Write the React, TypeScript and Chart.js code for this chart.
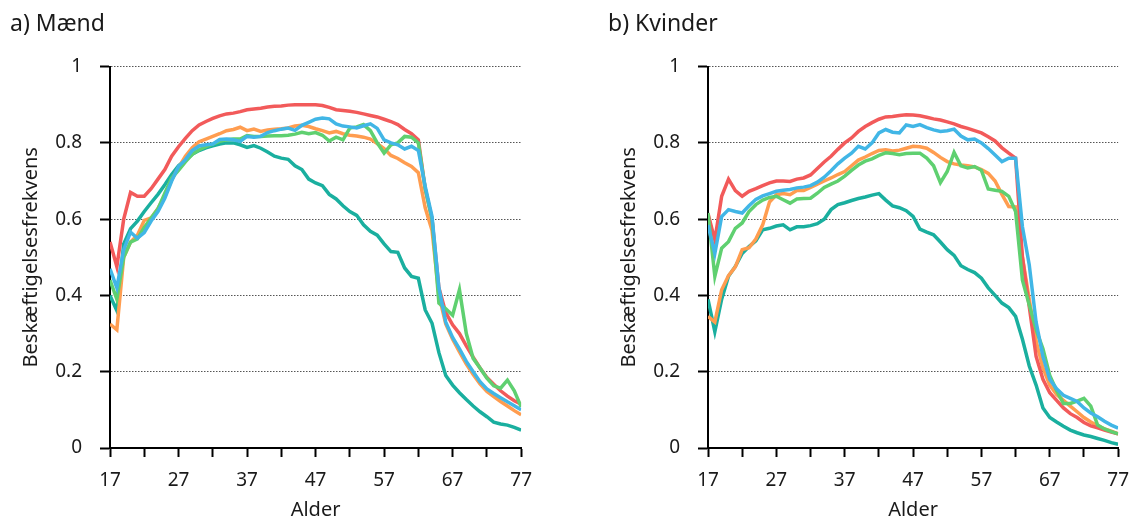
import React, { useEffect, useRef } from "react";
import { Chart, registerables } from "chart.js";

Chart.register(...registerables);

const ages = [17,18,19,20,21,22,23,24,25,26,27,28,29,30,31,32,33,34,35,36,37,38,39,40,41,42,43,44,45,46,47,48,49,50,51,52,53,54,55,56,57,58,59,60,61,62,63,64,65,66,67,68,69,70,71,72,73,74,75,76,77];
const xTickValues = [17,22,27,32,37,42,47,52,57,62,67,72,77];
const xTickLabels = [17,27,37,47,57,67,77];

const menRed = [0.54,0.475,0.60,0.67,0.66,0.66,0.68,0.705,0.73,0.765,0.79,0.812,0.832,0.847,0.856,0.864,0.871,0.876,0.878,0.882,0.887,0.889,0.891,0.894,0.896,0.897,0.899,0.9,0.9,0.9,0.9,0.898,0.893,0.887,0.885,0.883,0.88,0.876,0.872,0.868,0.862,0.856,0.848,0.835,0.824,0.808,0.68,0.60,0.42,0.355,0.323,0.30,0.268,0.238,0.21,0.185,0.167,0.15,0.136,0.124,0.115];
const menBlue = [0.47,0.42,0.52,0.566,0.55,0.565,0.595,0.62,0.655,0.70,0.738,0.756,0.78,0.792,0.795,0.797,0.809,0.81,0.808,0.804,0.817,0.815,0.817,0.827,0.832,0.836,0.839,0.833,0.846,0.854,0.862,0.865,0.863,0.85,0.844,0.842,0.839,0.845,0.85,0.838,0.808,0.80,0.795,0.784,0.791,0.78,0.686,0.607,0.42,0.33,0.29,0.26,0.227,0.20,0.174,0.155,0.143,0.132,0.121,0.111,0.10];
const menOrange = [0.325,0.31,0.50,0.54,0.558,0.597,0.603,0.628,0.66,0.703,0.735,0.765,0.787,0.803,0.81,0.817,0.824,0.832,0.835,0.841,0.832,0.836,0.83,0.834,0.836,0.837,0.839,0.844,0.846,0.843,0.837,0.832,0.826,0.83,0.824,0.82,0.818,0.815,0.81,0.798,0.785,0.767,0.759,0.748,0.738,0.722,0.63,0.57,0.40,0.325,0.285,0.252,0.22,0.193,0.168,0.148,0.135,0.122,0.11,0.098,0.087];
const menGreen = [0.44,0.39,0.50,0.54,0.548,0.578,0.603,0.627,0.668,0.708,0.728,0.75,0.77,0.782,0.79,0.797,0.804,0.808,0.81,0.81,0.819,0.817,0.817,0.818,0.819,0.819,0.82,0.823,0.828,0.824,0.827,0.82,0.805,0.815,0.808,0.839,0.842,0.848,0.832,0.80,0.773,0.795,0.80,0.817,0.815,0.80,0.68,0.60,0.38,0.365,0.348,0.415,0.30,0.235,0.21,0.183,0.163,0.157,0.178,0.15,0.108];
const menTeal = [0.40,0.36,0.535,0.575,0.595,0.62,0.643,0.665,0.69,0.717,0.74,0.755,0.77,0.78,0.787,0.792,0.797,0.80,0.80,0.795,0.788,0.793,0.786,0.776,0.765,0.76,0.757,0.74,0.73,0.705,0.695,0.688,0.665,0.653,0.635,0.62,0.61,0.585,0.568,0.558,0.535,0.515,0.513,0.472,0.45,0.445,0.362,0.327,0.25,0.19,0.165,0.145,0.127,0.11,0.095,0.082,0.068,0.063,0.06,0.054,0.047];

const womenRed = [0.615,0.545,0.66,0.705,0.675,0.66,0.673,0.68,0.688,0.695,0.70,0.70,0.699,0.705,0.708,0.716,0.733,0.75,0.765,0.783,0.80,0.813,0.83,0.843,0.853,0.862,0.868,0.869,0.872,0.874,0.873,0.871,0.867,0.863,0.86,0.855,0.85,0.843,0.838,0.832,0.826,0.816,0.805,0.787,0.773,0.76,0.50,0.37,0.24,0.18,0.145,0.125,0.105,0.09,0.08,0.067,0.058,0.053,0.047,0.042,0.037];
const womenBlue = [0.585,0.51,0.607,0.625,0.62,0.616,0.635,0.652,0.661,0.667,0.673,0.676,0.678,0.682,0.684,0.688,0.697,0.71,0.727,0.745,0.76,0.773,0.791,0.784,0.80,0.826,0.835,0.828,0.826,0.847,0.843,0.848,0.84,0.834,0.83,0.832,0.836,0.818,0.808,0.81,0.80,0.785,0.768,0.751,0.76,0.76,0.58,0.48,0.33,0.24,0.18,0.155,0.138,0.13,0.122,0.105,0.092,0.082,0.07,0.06,0.052];
const womenOrange = [0.345,0.33,0.415,0.452,0.475,0.52,0.525,0.548,0.585,0.645,0.664,0.667,0.664,0.675,0.675,0.683,0.692,0.70,0.708,0.717,0.725,0.74,0.755,0.763,0.772,0.78,0.782,0.779,0.781,0.786,0.791,0.79,0.786,0.775,0.762,0.751,0.745,0.742,0.74,0.737,0.73,0.72,0.70,0.665,0.633,0.632,0.50,0.39,0.28,0.21,0.165,0.14,0.125,0.11,0.095,0.08,0.068,0.058,0.05,0.044,0.037];
const womenGreen = [0.616,0.45,0.524,0.541,0.576,0.59,0.62,0.638,0.65,0.657,0.66,0.651,0.642,0.653,0.654,0.655,0.668,0.683,0.692,0.70,0.713,0.728,0.742,0.752,0.758,0.767,0.774,0.772,0.769,0.772,0.773,0.773,0.76,0.74,0.696,0.725,0.775,0.74,0.734,0.738,0.728,0.679,0.676,0.673,0.66,0.62,0.44,0.375,0.31,0.26,0.19,0.15,0.117,0.117,0.123,0.13,0.11,0.06,0.05,0.043,0.037];
const womenTeal = [0.39,0.305,0.39,0.45,0.476,0.51,0.528,0.543,0.572,0.576,0.582,0.585,0.572,0.58,0.58,0.583,0.588,0.60,0.625,0.638,0.643,0.649,0.654,0.658,0.663,0.667,0.65,0.635,0.63,0.622,0.607,0.574,0.566,0.559,0.54,0.52,0.505,0.478,0.468,0.46,0.445,0.42,0.40,0.38,0.368,0.345,0.285,0.215,0.165,0.105,0.08,0.068,0.057,0.047,0.04,0.034,0.03,0.025,0.02,0.014,0.01];

const COLORS = {
  blue: "#41B6E6",
  green: "#5FD070",
  red: "#F25A5A",
  orange: "#FF9D50",
  teal: "#1AAF9F",
};

const FONT = "'Noto Sans', 'Open Sans', sans-serif";
const TEXT = "#1a1a1a";

type Series = { red: number[]; blue: number[]; orange: number[]; green: number[]; teal: number[] };

function toPoints(values: number[]) {
  return ages.map((a, i) => ({ x: a, y: values[i] }));
}

function buildConfig(title: string, s: Series): any {
  const mk = (vals: number[], color: string) => ({
    data: toPoints(vals),
    borderColor: color,
    backgroundColor: color,
    borderWidth: 3.5,
    pointRadius: 0,
    tension: 0,
    fill: false,
  });
  return {
    type: "line",
    data: {
      datasets: [
        mk(s.blue, COLORS.blue),
        mk(s.green, COLORS.green),
        mk(s.red, COLORS.red),
        mk(s.orange, COLORS.orange),
        mk(s.teal, COLORS.teal),
      ],
    },
    options: {
      animation: false,
      responsive: false,
      events: [],
      layout: { padding: { left: 10, right: 10, top: 0, bottom: 0 } },
      plugins: {
        legend: { display: false },
        tooltip: { enabled: false },
        title: {
          display: true,
          text: title,
          align: "start",
          color: TEXT,
          font: { family: FONT, size: 23, weight: "normal" },
          padding: { top: 11, bottom: 28 },
        },
      },
      scales: {
        x: {
          type: "linear",
          min: 17,
          max: 77,
          afterBuildTicks: (scale: any) => {
            scale.ticks = xTickValues.map((v) => ({ value: v }));
          },
          afterFit: (scale: any) => {
            scale.height = 74;
          },
          ticks: {
            autoSkip: false,
            maxRotation: 0,
            padding: 12,
            color: TEXT,
            font: { family: FONT, size: 19 },
            callback: (v: any) => (xTickLabels.includes(Number(v)) ? String(v) : ""),
          },
          grid: {
            drawOnChartArea: false,
            tickLength: 9,
            tickWidth: 2,
            tickColor: "#000",
          },
          border: { color: "#000", width: 2 },
          title: {
            display: true,
            text: "Alder",
            color: TEXT,
            font: { family: FONT, size: 20 },
            padding: { top: 6, bottom: 0 },
          },
        },
        y: {
          min: 0,
          max: 1,
          afterFit: (scale: any) => {
            scale.width = 100;
          },
          ticks: {
            stepSize: 0.2,
            padding: 18,
            color: TEXT,
            font: { family: FONT, size: 19 },
            callback: (v: any) => String(Math.round(Number(v) * 10) / 10),
          },
          grid: {
            color: (ctx: any) => (ctx.tick && ctx.tick.value === 0 ? "rgba(0,0,0,0)" : "#555"),
            lineWidth: 1,
            tickLength: 10,
            tickWidth: 2,
            tickColor: "#000",
            tickBorderDash: [],
          },
          border: { color: "#000", width: 2, dash: [1.5, 1.5] },
          title: {
            display: true,
            text: "Beskæftigelsesfrekvens",
            color: TEXT,
            font: { family: FONT, size: 20 },
            padding: { top: 9, bottom: 0 },
          },
        },
      },
    },
  };
}

function Panel({ title, series, left, width }: { title: string; series: Series; left: number; width: number }) {
  const ref = useRef<HTMLCanvasElement | null>(null);
  useEffect(() => {
    if (!ref.current) return;
    const chart = new Chart(ref.current, buildConfig(title, series));
    return () => chart.destroy();
  }, [title, series]);
  return (
    <div style={{ position: "absolute", left, top: 0, width, height: 522 }}>
      <canvas ref={ref} width={width} height={522} style={{ width, height: 522, display: "block" }} />
    </div>
  );
}

const men: Series = { red: menRed, blue: menBlue, orange: menOrange, green: menGreen, teal: menTeal };
const women: Series = { red: womenRed, blue: womenBlue, orange: womenOrange, green: womenGreen, teal: womenTeal };

export default function App() {
  return (
    <div style={{ position: "fixed", left: 0, top: 0, width: 1129, height: 522, overflow: "hidden", background: "#fff" }}>
      <Panel title="a) Mænd" series={men} left={0} width={544} />
      <Panel title="b) Kvinder" series={women} left={598} width={543} />
    </div>
  );
}
